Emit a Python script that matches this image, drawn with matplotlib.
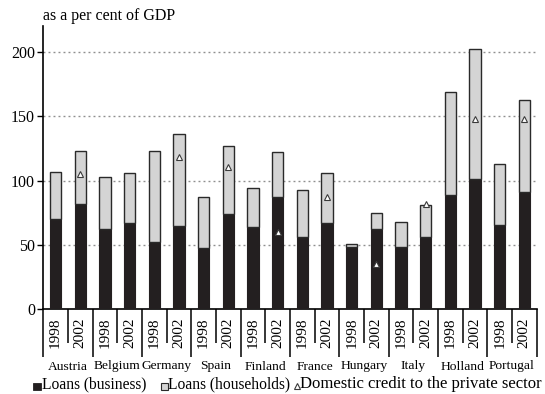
import matplotlib
matplotlib.use("Agg")
import matplotlib.pyplot as plt
import matplotlib.transforms as mtransforms
from matplotlib.lines import Line2D
from matplotlib.patches import Rectangle
import numpy as np

plt.rcParams['font.family'] = ['Liberation Serif', 'DejaVu Serif']

countries = ["Austria", "Belgium", "Germany", "Spain", "Finland",
             "France", "Hungary", "Italy", "Holland", "Portugal"]
years = ["1998", "2002"]

# Loans to business, as % of GDP (1998, 2002 per country)
loans_business = [70, 82, 62, 67, 52.5, 64.5, 47.5, 74, 64, 87.5,
                  56.5, 67, 48, 62.5, 48.5, 56.5, 88.5, 101, 65.5, 91]
# Total loans (business + households), as % of GDP
loans_total = [107, 123, 103, 106, 123, 136.5, 87, 127, 94, 122,
               92.5, 105.5, 51, 74.5, 68, 81, 168.5, 202.5, 112.5, 162.5]
# Domestic credit to the private sector (2002 only; None = not shown)
domestic_credit = [None, 105, None, None, None, 118.5, None, 110.5, None, 60,
                   None, 87, None, 35.5, None, 82, None, 147.5, None, 147.5]

loans_households = [t - b for t, b in zip(loans_total, loans_business)]

W, H = 545, 394
fig = plt.figure(figsize=(W / 100, H / 100), dpi=100)
ax = fig.add_axes([43.3 / W, 1 - 309.3 / H, (536.7 - 43.3) / W, (309.3 - 26) / H])

n = len(loans_business)
x = np.arange(n) + 0.5
black = "#231f20"
grey = "#d4d4d4"
edge = "#2a2a2a"

ax.bar(x, loans_business, width=0.45, color=black, edgecolor=black, linewidth=0.8, zorder=3)
ax.bar(x, loans_households, bottom=loans_business, width=0.45, color=grey,
       edgecolor=edge, linewidth=1.0, zorder=3)

dx = [xi for xi, d in zip(x, domestic_credit) if d is not None]
dy = [d for d in domestic_credit if d is not None]
ax.plot(dx, dy, linestyle="none", marker="^", markersize=5, markerfacecolor="white",
        markeredgecolor="#3a3a3a", markeredgewidth=0.8, zorder=4)

ax.set_xlim(0, n)
ax.set_ylim(0, 220)
ax.set_yticks([0, 50, 100, 150, 200])
ax.tick_params(axis="y", direction="out", length=4, width=1, labelsize=11.5, pad=2)
for yv in [50, 100, 150, 200]:
    ax.axhline(yv, color="#8f8f8f", linestyle=(0, (1.4, 2.2)), linewidth=1.0, zorder=1)

for s in ["top", "right"]:
    ax.spines[s].set_visible(False)
ax.spines["left"].set_linewidth(1.2)
ax.spines["bottom"].set_linewidth(1.2)

# Separators under the axis: long between countries, short between years
ax.set_xticks(np.arange(0, n + 1, 2))
ax.set_xticks(np.arange(1, n, 2), minor=True)
ax.tick_params(axis="x", which="major", direction="out", length=34.5, width=1.1, labelbottom=False)
ax.tick_params(axis="x", which="minor", direction="out", length=24.5, width=1.1, labelbottom=False)

trans = mtransforms.blended_transform_factory(ax.transData, fig.transFigure)
for i, xi in enumerate(x):
    ax.text(xi, 1 - 333 / H, years[i % 2], rotation=90, ha="center", va="center",
            fontsize=11, transform=trans)
for j, c in enumerate(countries):
    ax.text(2 * j + 1, 1 - 366.5 / H, c, ha="center", va="center", fontsize=9.7,
            transform=trans)

fig.text(43 / W, 1 - 16 / H, "as a per cent of GDP", ha="left", va="center", fontsize=11.5)

# Legend row, laid out in figure pixels
def px(xp, yp):
    return xp / W, 1 - yp / H

leg_base = 388.5
fig.add_artist(Rectangle(px(33, 390), 7.5 / W, 7.5 / H, transform=fig.transFigure,
                         facecolor=black, edgecolor=black, linewidth=0.6))
fig.text(*px(41.5, leg_base), "Loans (business)", ha="left", va="baseline", fontsize=11.2)
fig.add_artist(Rectangle(px(160.5, 390), 7 / W, 7 / H, transform=fig.transFigure,
                         facecolor=grey, edgecolor=edge, linewidth=0.8))
fig.text(*px(168.5, leg_base), "Loans (households)", ha="left", va="baseline", fontsize=11.2)
fig.add_artist(Line2D([296.5 / W], [1 - 386 / H], transform=fig.transFigure, linestyle="none",
                      marker="^", markersize=4.5, markerfacecolor="white",
                      markeredgecolor="#3a3a3a", markeredgewidth=0.8))
fig.text(*px(300.5, leg_base), "Domestic credit to the private sector", ha="left",
         va="baseline", fontsize=12.0)

fig.savefig("out.png", dpi=100)
